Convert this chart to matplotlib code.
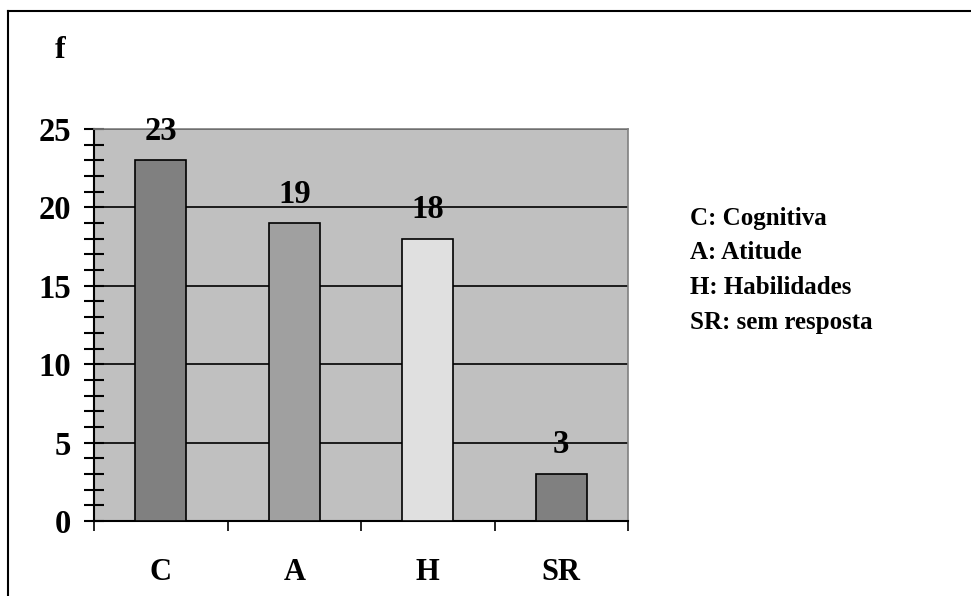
import numpy as np
import matplotlib
matplotlib.use('Agg')
import matplotlib.pyplot as plt
from matplotlib.lines import Line2D
from matplotlib.ticker import MultipleLocator

plt.rcParams['font.family'] = 'Liberation Serif'
plt.rcParams['font.weight'] = 'bold'

categories = ['C', 'A', 'H', 'SR']
values = [23, 19, 18, 3]
bar_colors = ['#808080', '#a0a0a0', '#e0e0e0', '#808080']
legend_lines = ['C: Cognitiva', 'A: Atitude', 'H: Habilidades', 'SR: sem resposta']

W, H = 971, 596
fig = plt.figure(figsize=(W / 100, H / 100), dpi=100)

# outer frame (only left and top edges show)
fig.add_artist(Line2D([8 / W, 8 / W], [0, 1 - 11 / H], color='k', lw=1.5))
fig.add_artist(Line2D([8 / W, 1], [1 - 11 / H, 1 - 11 / H], color='k', lw=1.5))

left, right, top, bottom = 94, 628, 129, 521
ax = fig.add_axes([left / W, 1 - bottom / H, (right - left) / W, (bottom - top) / H])
ax.set_facecolor('#c0c0c0')

x = np.arange(len(categories))
ax.bar(x, values, width=0.38, color=bar_colors, edgecolor='k', linewidth=1.2, zorder=3)
for xi, v in zip(x, values):
    ax.text(xi, v + 1.85, str(v), ha='center', va='center', fontsize=23.5,
            fontweight='bold', zorder=4)

ax.set_xlim(-0.5, len(categories) - 0.5)
ax.set_ylim(0, 25)
ax.yaxis.set_major_locator(MultipleLocator(5))
ax.yaxis.set_minor_locator(MultipleLocator(1))
ax.yaxis.grid(True, which='major', color='k', lw=1.2, zorder=1)
ax.set_axisbelow(True)

ax.set_xticks(np.arange(len(categories) + 1) - 0.5)
ax.set_xticklabels([])
ax.set_xticks(x, minor=True)
ax.set_xticklabels(categories, minor=True, fontsize=22, fontweight='bold')
ax.tick_params(axis='x', which='major', direction='out', length=7.5, width=1.2)
ax.tick_params(axis='x', which='minor', length=0, pad=27)
ax.tick_params(axis='y', which='both', direction='inout', length=14.5, width=1.5)
ax.tick_params(axis='y', which='major', labelsize=23.5, pad=9)
for lab in ax.get_yticklabels():
    lab.set_fontweight('bold')

ax.spines['left'].set_linewidth(1.5)
ax.spines['bottom'].set_linewidth(1.5)
ax.spines['top'].set_color('#808080')
ax.spines['right'].set_color('#808080')
ax.spines['top'].set_linewidth(1.2)
ax.spines['right'].set_linewidth(1.2)

fig.text(60 / W, 1 - 51 / H, 'f', ha='center', va='center', fontsize=23, fontweight='bold')

for i, t in enumerate(legend_lines):
    fig.text(690 / W, 1 - (218 + i * 34.7) / H, t, ha='left', va='center',
             fontsize=18, fontweight='bold')

fig.savefig('out.png', dpi=100)
